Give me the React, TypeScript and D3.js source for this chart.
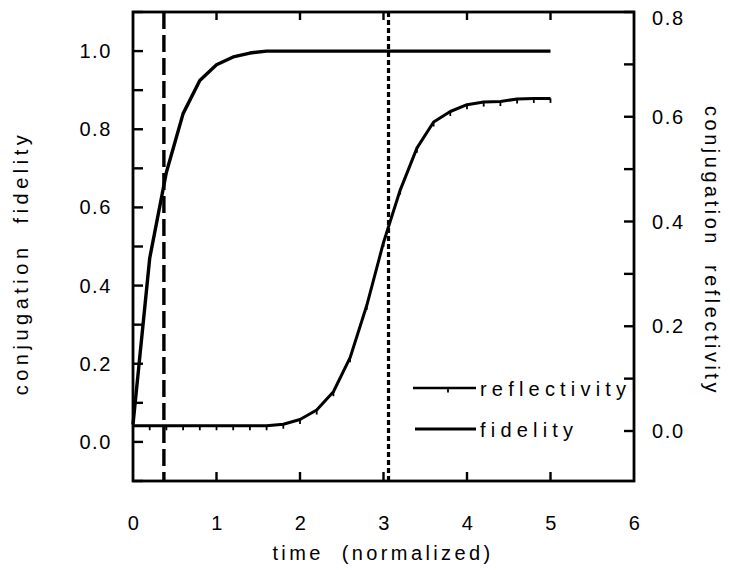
import React from "react";
import * as d3 from "d3";

const time = [0, 0.2, 0.4, 0.6, 0.8, 1.0, 1.2, 1.4, 1.6, 1.8, 2.0, 2.2, 2.4, 2.6, 2.8, 3.0, 3.2, 3.4, 3.6, 3.8, 4.0, 4.2, 4.4, 4.6, 4.8, 5.0];
const fidelity = [0.045, 0.47, 0.69, 0.84, 0.925, 0.965, 0.985, 0.995, 1.0, 1.0, 1.0, 1.0, 1.0, 1.0, 1.0, 1.0, 1.0, 1.0, 1.0, 1.0, 1.0, 1.0, 1.0, 1.0, 1.0, 1.0];
const reflectivity = [0.01, 0.01, 0.01, 0.01, 0.01, 0.01, 0.01, 0.01, 0.01, 0.013, 0.022, 0.04, 0.075, 0.14, 0.24, 0.36, 0.46, 0.54, 0.59, 0.61, 0.623, 0.628, 0.629, 0.634, 0.635, 0.635];
const xTickLabels = [0, 1, 2, 3, 4, 5, 6];
const leftTickLabels = [0.0, 0.2, 0.4, 0.6, 0.8, 1.0];
const rightTickLabels = [0.0, 0.2, 0.4, 0.6, 0.8];
const dashedMarker = 0.37;
const dottedMarker = 3.06;
const xTitle = "time  (normalized)";
const leftTitle = "conjugation  fidelity";
const rightTitle = "conjugation  reflectivity";
const legendLabels = ["reflectivity", "fidelity"];

const FONT = "'Liberation Sans', Arial, Helvetica, sans-serif";

export default function App() {
  const L = 133, R = 634, T = 12, B = 481;
  const x = d3.scaleLinear().domain([0, 6]).range([L, R]);
  const yL = d3.scaleLinear().domain([-0.1, 1.1]).range([B, T]);
  const yR = d3.scaleLinear().domain([0, 0.8]).range([431, T]);

  const fidLine = d3.line<number>().x((_, i) => x(time[i])).y((d) => yL(d));
  const refLine = d3.line<number>().x((_, i) => x(time[i])).y((d) => yR(d));

  const leftMinor = d3.range(-1, 12).map((k) => k / 10);
  const rightMinor = d3.range(0, 9).map((k) => k / 10);
  const xInt = [1, 2, 3, 4, 5];

  const tickStyle = { fontFamily: FONT, fontSize: 20, letterSpacing: 1.6 } as React.CSSProperties;
  const xTitleStyle = { fontFamily: FONT, fontSize: 20, letterSpacing: 3.4, whiteSpace: "pre" } as React.CSSProperties;
  const lTitleStyle = { fontFamily: FONT, fontSize: 20, letterSpacing: 4.5, whiteSpace: "pre" } as React.CSSProperties;
  const rTitleStyle = { fontFamily: FONT, fontSize: 20, letterSpacing: 3.5, whiteSpace: "pre" } as React.CSSProperties;
  const legendStyle = { fontFamily: FONT, fontSize: 20, letterSpacing: 5.2 } as React.CSSProperties;

  return (
    <svg width={730} height={570} style={{ position: "absolute", left: 0, top: 0, background: "#fff" }}>
      {/* ticks */}
      {leftMinor.map((v) => (
        <line key={"l" + v} x1={L} x2={L + 10} y1={yL(v)} y2={yL(v)} stroke="#000" strokeWidth={2.4} />
      ))}
      {rightMinor.map((v) => (
        <line key={"r" + v} x1={R - 10} x2={R} y1={yR(v)} y2={yR(v)} stroke="#000" strokeWidth={2.4} />
      ))}
      {xInt.map((v) => (
        <g key={"x" + v}>
          <line x1={x(v)} x2={x(v)} y1={B} y2={B - 9} stroke="#000" strokeWidth={2.4} />
          <line x1={x(v)} x2={x(v)} y1={T} y2={T + 8} stroke="#000" strokeWidth={2.4} />
        </g>
      ))}

      {/* reference lines */}
      <line x1={x(dashedMarker)} x2={x(dashedMarker)} y1={T} y2={B} stroke="#000" strokeWidth={3.4} strokeDasharray="17 6" />
      <line x1={x(dottedMarker)} x2={x(dottedMarker)} y1={T} y2={B} stroke="#000" strokeWidth={3.2} strokeDasharray="5 3" />

      {/* curves */}
      <path d={fidLine(fidelity) || ""} fill="none" stroke="#000" strokeWidth={3.4} strokeLinejoin="round" />
      <path d={refLine(reflectivity) || ""} fill="none" stroke="#000" strokeWidth={3} strokeLinejoin="round" />
      {reflectivity.map((v, i) => (
        <line key={"m" + i} x1={x(time[i])} x2={x(time[i])} y1={yR(v)} y2={yR(v) + 4.5} stroke="#000" strokeWidth={1.8} />
      ))}

      {/* frame */}
      <rect x={L} y={T} width={R - L} height={B - T} fill="none" stroke="#000" strokeWidth={2.8} />

      {/* tick labels */}
      {leftTickLabels.map((v) => (
        <text key={"lt" + v} x={112} y={yL(v)} dy="0.35em" textAnchor="end" style={tickStyle}>
          {v.toFixed(1)}
        </text>
      ))}
      {rightTickLabels.map((v) => (
        <text key={"rt" + v} x={652} y={v === 0.8 ? yR(v) + 6 : yR(v)} dy="0.35em" textAnchor="start" style={tickStyle}>
          {v.toFixed(1)}
        </text>
      ))}
      {xTickLabels.map((v) => (
        <text key={"xt" + v} x={x(v) + 1} y={523} dy="0.35em" textAnchor="middle" style={tickStyle}>
          {v}
        </text>
      ))}

      {/* axis titles */}
      <text x={383} y={553} dy="0.35em" textAnchor="middle" style={xTitleStyle}>{xTitle}</text>
      <text transform="translate(21,263) rotate(-90)" textAnchor="middle" dy="0.35em" style={lTitleStyle}>{leftTitle}</text>
      <text transform="translate(712,251) rotate(90)" textAnchor="middle" dy="0.35em" style={rTitleStyle}>{rightTitle}</text>

      {/* legend */}
      <line x1={413} x2={476} y1={388} y2={388} stroke="#000" strokeWidth={2.6} />
      <line x1={448} x2={448} y1={388} y2={392.5} stroke="#000" strokeWidth={1.8} />
      <text x={480} y={389} dy="0.35em" style={legendStyle}>{legendLabels[0]}</text>
      <line x1={415} x2={476} y1={429} y2={429} stroke="#000" strokeWidth={3.2} />
      <text x={480} y={430} dy="0.35em" style={legendStyle}>{legendLabels[1]}</text>
    </svg>
  );
}
